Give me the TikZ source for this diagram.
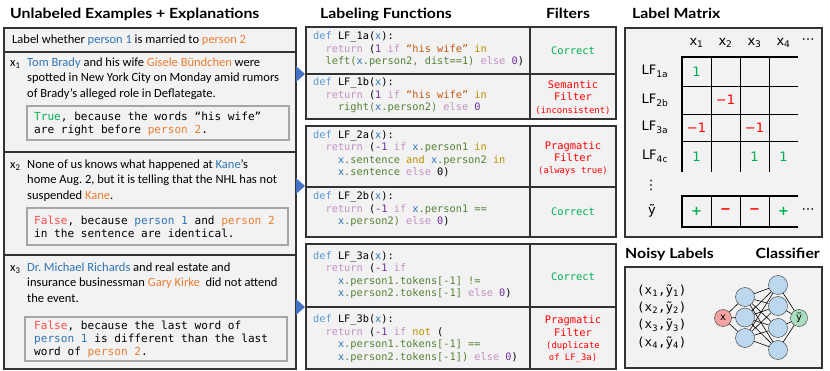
\documentclass[tikz,border=0pt]{standalone}
\usepackage{fontspec}
\setmainfont{Carlito}
\setmonofont{DejaVu Sans Mono}
\newfontfamily\titlefont[FakeStretch=1.13]{Lato}
\newfontfamily\matfont{DejaVu Sans}
\usetikzlibrary{calc, arrows.meta, positioning}

\definecolor{pone}{HTML}{2E75B6}
\definecolor{ptwo}{HTML}{ED7D31}
\definecolor{truegreen}{HTML}{00B050}
\definecolor{falsered}{HTML}{FF4B4B}
\definecolor{filterred}{HTML}{FF0000}
\definecolor{panelfill}{HTML}{F2F2F2}
\definecolor{arrowblue}{HTML}{4472C4}
\definecolor{cdef}{HTML}{5B9BD5}
\definecolor{cret}{HTML}{C490C4}
\definecolor{cnum}{HTML}{7030A0}
\definecolor{cstr}{HTML}{C55A11}
\definecolor{cop}{HTML}{BF9000}
\definecolor{cvar}{HTML}{548235}
\definecolor{nnblue}{HTML}{BDD7EE}
\definecolor{nnred}{HTML}{F4A3A3}
\definecolor{nngreen}{HTML}{A9DFBF}

\newcommand{\codedef}[1]{\textcolor{cdef}{#1}}
\newcommand{\coderet}[1]{\textcolor{cret}{#1}}
\newcommand{\codenum}[1]{\textcolor{cnum}{#1}}
\newcommand{\codestr}[1]{\textcolor{cstr}{#1}}
\newcommand{\codeop}[1]{\textcolor{cop}{#1}}
\newcommand{\codevar}[1]{\textcolor{cvar}{#1}}
\newcommand{\codex}[1]{\textcolor{pone}{#1}}
\newcommand{\codeind}[1]{\hspace*{#1\fontcharwd\font`x}}
\newcommand{\pone}[1]{\textcolor{pone}{#1}}
\newcommand{\ptwo}[1]{\textcolor{ptwo}{#1}}

% multi-line nodes are placed by the baseline of their last line
\tikzset{
  panel/.style={draw=black!80, fill=panelfill, line width=1.2pt},
  explbox/.style={draw=black!35, fill=panelfill, line width=2pt},
  title/.style={font=\titlefont\bfseries\fontsize{14}{16}\selectfont, inner sep=0pt},
  bodytext/.style={font=\fontsize{12.5}{15.5}\selectfont, align=left, anchor=base west, inner sep=0pt},
  expltext/.style={font=\ttfamily\fontsize{11.1}{13.5}\selectfont, align=left, anchor=base west, inner sep=0pt},
  codetext/.style={font=\ttfamily\fontsize{10.3}{12.5}\selectfont, align=left, anchor=base west, inner sep=0pt},
  filtertext/.style={font=\ttfamily\fontsize{10.4}{12.3}\selectfont, align=center, inner sep=0pt},
  mattext/.style={font=\matfont\fontsize{13}{15}\selectfont, inner sep=0pt},
  hnode/.style={circle, draw=black!80, fill=nnblue, minimum size=19pt, inner sep=0pt},
  endnode/.style={circle, draw=black!80, minimum size=17pt, inner sep=0pt, font=\matfont\fontsize{10}{12}\selectfont},
  nnedge/.style={draw=black, line width=0.6pt},
}

\begin{document}
\begin{tikzpicture}[x=1pt, y=-1pt]
\frenchspacing
\useasboundingbox (0,0) rectangle (830,371);

% titles
\node[title, anchor=base west] (tunlab) at (10,19) {Unlabeled Examples + Explanations};
\node[title, anchor=base] (tlf) at (386,19) {Labeling Functions};
\node[title, anchor=base] (tfilt) at (568,19) {Filters};
\node[title, anchor=base west] (tmat) at (632,19) {Label Matrix};
\node[title, anchor=base west] (tnoisy) at (625,259) {Noisy Labels};
\node[title, anchor=base east] (tclf) at (820,259) {Classifier};

% left panel
\draw[panel] (4,28) rectangle (296,369);
\foreach \y in {52,152,255}
    \draw[draw=black!80, line width=1.2pt] (4,\y) -- (296,\y);
\foreach \yc in {74,186,307}
    \fill[arrowblue] (296,\yc-8) -- (305,\yc) -- (296,\yc+8) -- cycle;

\node[bodytext] (task) at (12,43.5) {Label whether \pone{person 1} is married to \ptwo{person 2}};

\node[bodytext] (xa) at (10,66.5) {x\textsubscript{1}};
\node[bodytext] (sa) at (27,97.5) {\pone{Tom Brady} and his wife \ptwo{Gisele Bündchen} were\\
    spotted in New York City on Monday amid rumors\\
    of Brady’s alleged role in Deflategate.};
\draw[explbox] (27,106) rectangle (289,140);
\node[expltext] (ea) at (34,134) {\textcolor{truegreen}{True}, because the words “his wife”\\
    are right before \ptwo{person 2}.};

\node[bodytext] (xb) at (10,168.5) {x\textsubscript{2}};
\node[bodytext] (sb) at (27,199.5) {None of us knows what happened at \pone{Kane}’s\\
    home Aug. 2, but it is telling that the NHL has not\\
    suspended \ptwo{Kane}.};
\draw[explbox] (27,208) rectangle (288,245);
\node[expltext] (eb) at (34,238) {\textcolor{falsered}{False}, because \pone{person 1} and \ptwo{person 2}\\
    in the sentence are identical.};

\node[bodytext] (xc) at (10,271.5) {x\textsubscript{3}};
\node[bodytext] (sc) at (27,302.5) {\pone{Dr. Michael Richards} and real estate and\\
    insurance businessman \ptwo{Gary Kirke}\ \ did not attend\\
    the event.};
\draw[explbox] (25,317) rectangle (287,361);
\node[expltext, font=\ttfamily\fontsize{11.1}{13}\selectfont] (ec) at (34,355.5) {\textcolor{falsered}{False}, because the last word of\\
    \pone{person 1} is different than the last\\
    word of \ptwo{person 2}.};

% labeling functions and filters
\foreach \top/\mid/\bot in {27/74/119, 126/187/237, 244/307/369} {
    \draw[panel] (306,\top) rectangle (616,\bot);
    \draw[draw=black!80, line width=1.2pt] (306,\mid) -- (616,\mid);
    \draw[draw=black!80, line width=1.2pt] (530,\top) -- (530,\bot);
}

\node[codetext] (lfa) at (313,65) {\codedef{def} LF\_1a(\codex{x}):\\
    \codeind{2}\coderet{return} (\codenum{1} \coderet{if} \codestr{“his wife”} \codeop{in}\\
    \codeind{2}\codevar{left(}\codex{x}\codevar{.person2, dist==1)} \coderet{else} \codenum{0})};
\node[codetext] (lfb) at (313,111) {\codedef{def} LF\_1b(\codex{x}):\\
    \codeind{2}\coderet{return} (\codenum{1} \coderet{if} \codestr{“his wife”} \codeop{in}\\
    \codeind{4}\codevar{right(}\codex{x}\codevar{.person2)} \coderet{else} \codenum{0}};
\node[codetext] (lfc) at (313,176) {\codedef{def} LF\_2a(\codex{x}):\\
    \codeind{2}\coderet{return} (\codenum{-1} \coderet{if} \codex{x}\codevar{.person1} \codeop{in}\\
    \codeind{4}\codex{x}\codevar{.sentence} \codeop{and} \codex{x}\codevar{.person2} \codeop{in}\\
    \codeind{4}\codex{x}\codevar{.sentence} \coderet{else} 0)};
\node[codetext] (lfd) at (313,225) {\codedef{def} LF\_2b(\codex{x}):\\
    \codeind{2}\coderet{return} (\codenum{-1} \coderet{if} \codex{x}\codevar{.person1 ==}\\
    \codeind{4}\codex{x}\codevar{.person2)} \coderet{else} \codenum{0})};
\node[codetext] (lfe) at (313,297) {\codedef{def} LF\_3a(\codex{x}):\\
    \codeind{2}\coderet{return} (\codenum{-1} \coderet{if}\\
    \codeind{4}\codex{x}\codevar{.person1.tokens[-1] !=}\\
    \codeind{4}\codex{x}\codevar{.person2.tokens[-1]} \coderet{else} \codenum{0})};
\node[codetext] (lff) at (313,360) {\codedef{def} LF\_3b(\codex{x}):\\
    \codeind{2}\coderet{return} (\codenum{-1} \coderet{if} \codeop{not} (\\
    \codeind{4}\codex{x}\codevar{.person1.tokens[-1] ==}\\
    \codeind{4}\codex{x}\codevar{.person2.tokens[-1])} \coderet{else} \codenum{0})};

\node[filtertext, text=truegreen] (fa) at (573,51) {Correct};
\node[filtertext, text=filterred] (fb) at (573,97.5) {Semantic\\Filter\\{\fontsize{8.9}{10}\selectfont(inconsistent)}};
\node[filtertext, text=filterred] (fc) at (573,158.5) {Pragmatic\\Filter\\{\fontsize{8.9}{10}\selectfont(always true)}};
\node[filtertext, text=truegreen] (fd) at (573,212) {Correct};
\node[filtertext, text=truegreen] (fe) at (573,277) {Correct};
\node[filtertext, text=filterred] (ff) at (573,339.5) {Pragmatic\\Filter\\{\fontsize{8.9}{10}\selectfont(duplicate}\\{\fontsize{8.9}{10}\selectfont of LF\_3a)}};

% label matrix
\draw[panel] (625,28) rectangle (822,237);
\foreach \i/\x in {1/696.5,2/725.5,3/754.5,4/783.5}
    \node[mattext] (col\i) at (\x,43) {x\textsubscript{\i}};
\node[mattext] (coldots) at (808,41) {⋯};
\foreach \n/\lab/\y in {1/1a/71.5,2/2b/100,3/3a/127.5,4/4c/156.5}
    \node[mattext] (row\n) at (655,\y) {LF\textsubscript{\lab}};
\node[mattext] (rowdots) at (651,185) {⋮};
\node[mattext] (rowy) at (652,211) {ỹ};

\draw[line width=2pt] (682,172) -- (682,57) -- (798,57);
\foreach \y in {86,114,141}
    \draw[line width=0.9pt] (682,\y) -- (798,\y);
\foreach \x in {711,740,769}
    \draw[line width=0.9pt] (\x,57) -- (\x,172);
\draw[line width=2pt] (798,196) -- (682,196) -- (682,227) -- (798,227);
\foreach \x in {711,740,769}
    \draw[line width=0.9pt] (\x,196) -- (\x,227);

\node[mattext, text=truegreen] (ma) at (696.5,71.5) {1};
\node[mattext, text=filterred] (mb) at (725.5,100) {−1};
\node[mattext, text=filterred] (mc) at (696.5,127.5) {−1};
\node[mattext, text=filterred] (md) at (754.5,127.5) {−1};
\node[mattext, text=truegreen] (me) at (696.5,156.5) {1};
\node[mattext, text=truegreen] (mf) at (754.5,156.5) {1};
\node[mattext, text=truegreen] (mg) at (783.5,156.5) {1};
\node[mattext, text=truegreen] (ya) at (696.5,211.5) {\textbf{+}};
\node[mattext, text=filterred] (yb) at (725.5,211.5) {\textbf{−}};
\node[mattext, text=filterred] (yc) at (754.5,211.5) {\textbf{−}};
\node[mattext, text=truegreen] (yd) at (783.5,211.5) {\textbf{+}};
\node[mattext] (ydots) at (808,211.5) {⋯};

% noisy labels and classifier
\draw[panel] (625,267) rectangle (822,368);
\node[font=\ttfamily\fontsize{12.5}{17.3}\selectfont, align=left, anchor=base west, inner sep=0pt] (pairs) at (637,346)
    {(x\textsubscript{1},ỹ\textsubscript{1})\\(x\textsubscript{2},ỹ\textsubscript{2})\\(x\textsubscript{3},ỹ\textsubscript{3})\\(x\textsubscript{4},ỹ\textsubscript{4})};

\node[endnode, fill=nnred] (nin) at (723,318) {x};
\foreach \i/\y in {1/297,2/317.5,3/338}
    \node[hnode] (ha\i) at (745,\y) {};
\foreach \j/\y in {1/285,2/306,3/328,4/350}
    \node[hnode] (hb\j) at (778,\y) {};
\node[endnode, fill=nngreen] (nout) at (799,318) {ỹ};
\foreach \i in {1,2,3} {
    \draw[nnedge] (nin) -- (ha\i);
    \foreach \j in {1,...,4}
        \draw[nnedge] (ha\i) -- (hb\j);
}
\foreach \j in {1,...,4}
    \draw[nnedge] (hb\j) -- (nout);

\end{tikzpicture}
\end{document}
